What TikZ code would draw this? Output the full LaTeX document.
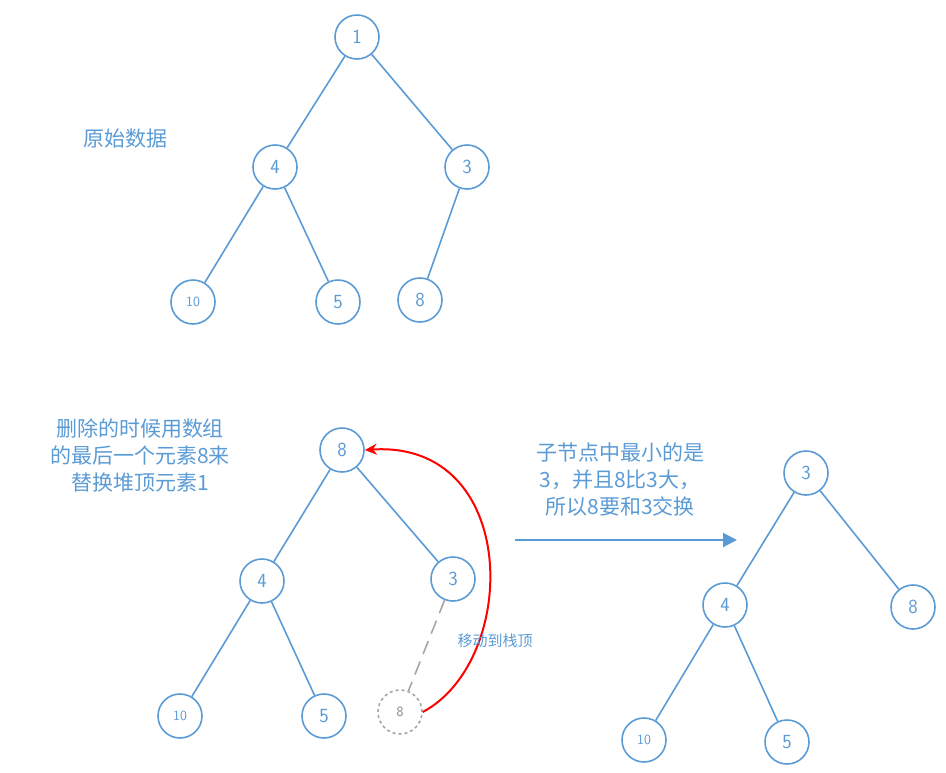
\documentclass[tikz,border=0pt]{standalone}
\usepackage{fontspec}
\newfontfamily\cjk{Noto Sans CJK SC}
\usetikzlibrary{arrows.meta}
\definecolor{bl}{HTML}{5B9BD5}
\begin{document}
\begin{tikzpicture}[x=1pt,y=-1pt,
 nd/.style={circle,draw=bl,line width=1.6pt,fill=white,minimum size=44pt,inner sep=0pt,text=bl,font=\sffamily\fontsize{20}{20}\selectfont},
 sm/.style={font=\sffamily\fontsize{14}{14}\selectfont},
 ed/.style={draw=bl,line width=1.6pt},
 lab/.style={text=bl,font=\cjk\fontsize{21}{27}\selectfont,align=center}]
\useasboundingbox (0,0) rectangle (946,772);
\node[nd] (a1) at (357,37) {1};
\node[nd] (a4) at (275,167) {4};
\node[nd] (a3) at (467,167) {3};
\node[nd,sm] (a10) at (193,302) {10};
\node[nd] (a5) at (338,302) {5};
\node[nd] (a8) at (420,300) {8};
\draw[ed] (a1)--(a4) (a1)--(a3) (a4)--(a10) (a4)--(a5) (a3)--(a8);
\node[lab] (t1) at (125,139) {原始数据};
\node[nd] (b8) at (342,450) {8};
\node[nd] (b4) at (262,581) {4};
\node[nd] (b3) at (453,579) {3};
\node[nd,sm] (b10) at (180,716) {10};
\node[nd] (b5) at (324,716) {5};
\node[nd,sm,draw=gray!70,text=gray,dashed] (bg) at (400,712) {8};
\draw[ed] (b8)--(b4) (b8)--(b3) (b4)--(b10) (b4)--(b5);
\draw[draw=gray!70,line width=1.6pt,dash pattern=on 14pt off 8pt] (b3)--(bg);
\draw[red,line width=2pt,-{Stealth[length=12pt,width=11pt]}] (bg.east) .. controls (520,660) and (520,440) .. (b8.east);
\node[text=bl,font=\cjk\fontsize{15}{15}\selectfont] (mv) at (495,641) {移动到栈顶};
\node[lab] (t2) at (140,455) {删除的时候用数组\\的最后一个元素8来\\替换堆顶元素1};
\node[lab] (t3) at (620,480) {子节点中最小的是\\3，并且8比3大，\\所以8要和3交换};
\coordinate (ar1) at (515,540);
\coordinate (ar2) at (737,540);
\draw[bl,line width=2pt,-{Triangle[length=14pt,width=14pt]}] (ar1)--(ar2);
\node[nd] (c3) at (806,473) {3};
\node[nd] (c4) at (725,605) {4};
\node[nd] (c8) at (913,607) {8};
\node[nd,sm] (c10) at (644,740) {10};
\node[nd] (c5) at (787,742) {5};
\draw[ed] (c3)--(c4) (c3)--(c8) (c4)--(c10) (c4)--(c5);
\end{tikzpicture}
\end{document}
